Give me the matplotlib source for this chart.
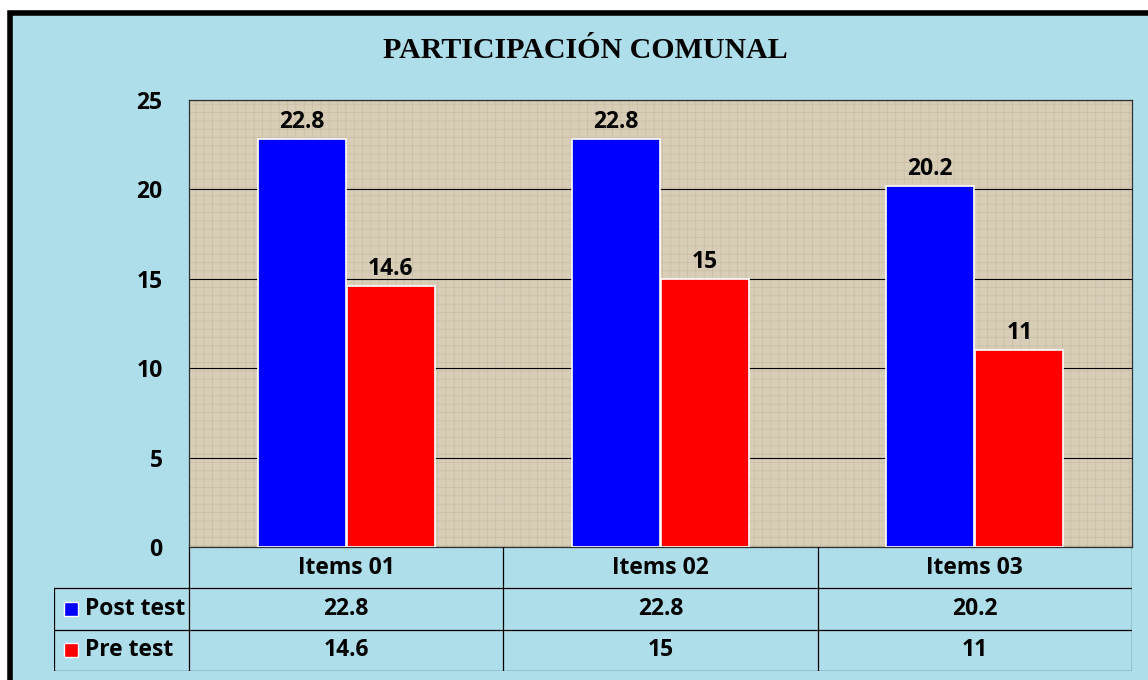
#
# participacion comunal: post test vs pre test bars with data table
#

import numpy as np
import matplotlib
matplotlib.use("Agg")
import matplotlib.pyplot as plt
from matplotlib.patches import Rectangle

categories = ["Items 01", "Items 02", "Items 03"]
post_test = [22.8, 22.8, 20.2]
pre_test = [14.6, 15, 11]
series_names = ["Post test", "Pre test"]
series_colors = ["#0000ff", "#ff0000"]
yticks = [0, 5, 10, 15, 20, 25]

def fmt(v):
    return ("%g" % v)

W, H = 1148, 680
fig = plt.figure(figsize=(W / 100, H / 100), dpi=100)
fig.patch.set_facecolor("white")

water = "#aedeea"
burlap = "#d8cdb7"
font = "Open Sans"
fs = 16.5

# outer frame with water colour
fig.patches.append(Rectangle((9.5 / W, -0.1), 1.2, (H - 12.5) / H + 0.1,
                             transform=fig.transFigure, facecolor=water,
                             edgecolor="black", lw=4, zorder=-5))

matplotlib.rcParams["hatch.linewidth"] = 0.5
ax = fig.add_axes([189 / W, 133 / H, 943 / W, 447 / H])
ax.set_facecolor(burlap)
ax.patch.set_hatch("++")
ax.patch.set_edgecolor("#c9bda4")
ax.patch.set_linewidth(0)

x = np.arange(len(categories))
bw = 0.28
off = 0.142
b1 = ax.bar(x - off, post_test, bw, color=series_colors[0], edgecolor="white", lw=1.2, zorder=3)
b2 = ax.bar(x + off, pre_test, bw, color=series_colors[1], edgecolor="white", lw=1.2, zorder=3)

for bars, vals in [(b1, post_test), (b2, pre_test)]:
    for b, v in zip(bars, vals):
        ax.annotate(fmt(v), (b.get_x() + b.get_width() / 2, v), xytext=(0, 3.5),
                    textcoords="offset points", ha="center", va="bottom",
                    fontsize=fs, fontweight="bold", family=font, zorder=4)

ax.set_xlim(-0.5, 2.5)
ax.set_ylim(0, 25)
ax.set_yticks(yticks)
ax.set_yticklabels([str(t) for t in yticks], fontsize=fs, fontweight="bold", family=font)
ax.tick_params(axis="y", length=0, pad=19)
ax.set_xticks([])
ax.grid(axis="y", color="black", lw=0.8, zorder=1)
for s in ax.spines.values():
    s.set_color("#303030")
    s.set_linewidth(0.9)

fig.text(585 / W, (H - 50) / H, "PARTICIPACIÓN COMUNAL", ha="center", va="center",
         fontsize=21.5, fontweight="bold", family="Liberation Serif")

# data table under the plot
left_col = (189 - 54) / (943 / 3)
x0 = -0.5 - left_col
tab = fig.add_axes([54 / W, 9 / H, 1078 / W, 124 / H])
tab.set_xlim(x0, 2.5)
tab.set_ylim(0, 3)
tab.axis("off")
lc = "black"
lw = 0.9
# horizontal lines
for yv in [0, 1, 2]:
    tab.plot([x0, 2.5], [yv, yv], color=lc, lw=lw)
# vertical lines
tab.plot([x0, x0], [0, 2], color=lc, lw=lw)
for xv in [-0.5, 0.5, 1.5, 2.5]:
    tab.plot([xv, xv], [0, 3], color=lc, lw=lw)

for i, c in enumerate(categories):
    tab.text(i, 2.5, c, ha="center", va="center", fontsize=fs, fontweight="bold", family=font)
    tab.text(i, 1.5, fmt(post_test[i]), ha="center", va="center", fontsize=fs, fontweight="bold", family=font)
    tab.text(i, 0.5, fmt(pre_test[i]), ha="center", va="center", fontsize=fs, fontweight="bold", family=font)

px = 1 / (943 / 3)
for yv, name, col in [(1.5, series_names[0], series_colors[0]), (0.5, series_names[1], series_colors[1])]:
    tab.add_patch(Rectangle((x0 + 10 * px, yv - 0.17), 14 * px, 0.34,
                            facecolor=col, edgecolor="white", lw=1))
    tab.text(x0 + 31 * px, yv, name, ha="left", va="center",
             fontsize=fs, fontweight="bold", family=font)

fig.savefig("out.png", dpi=100, facecolor=fig.get_facecolor())
